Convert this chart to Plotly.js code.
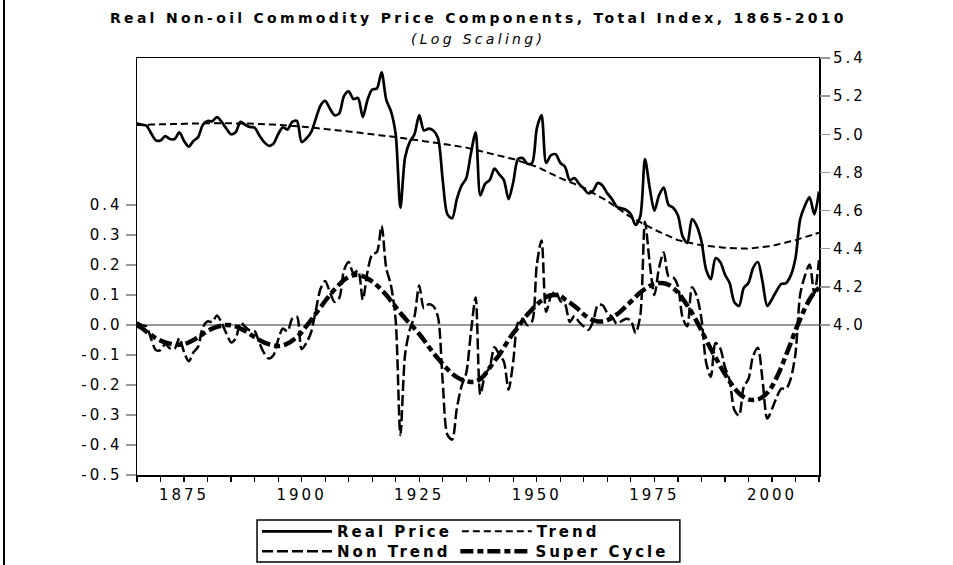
<!DOCTYPE html>
<html><head><meta charset="utf-8">
<script src="https://cdn.plot.ly/plotly-3.0.1.min.js"></script>
<style>
html,body{margin:0;padding:0;background:#fff;}
#chart{width:953px;height:565px;}
svg text{letter-spacing:3px;}
svg text.annotation-text{letter-spacing:3.3px;}
</style>
</head><body><div id="chart"></div>
<script>
const years = [];
for (let y = 1865; y <= 2010; y++) years.push(y);

const realPrice = [
5.058,5.050,5.045,5.005,4.968,4.968,4.990,4.975,4.975,5.010,
4.965,4.935,4.965,4.985,5.050,5.070,5.068,5.090,5.065,5.030,
5.000,5.012,5.065,5.050,5.038,5.035,4.995,4.960,4.940,4.950,
5.000,5.036,5.025,5.065,5.070,4.960,4.978,5.010,5.080,5.150,
5.175,5.135,5.100,5.110,5.200,5.225,5.185,5.190,5.090,5.180,
5.235,5.240,5.325,5.180,5.120,5.000,4.615,4.880,4.960,5.000,
5.100,5.020,5.030,5.020,4.980,4.760,4.580,4.560,4.660,4.730,
4.770,4.900,5.010,4.680,4.740,4.760,4.820,4.790,4.760,4.660,
4.750,4.870,4.875,4.845,4.850,5.030,5.100,4.850,4.890,4.895,
4.850,4.830,4.760,4.770,4.740,4.715,4.690,4.705,4.745,4.730,
4.690,4.660,4.620,4.612,4.603,4.580,4.525,4.570,4.870,4.720,
4.600,4.680,4.720,4.630,4.615,4.575,4.465,4.430,4.555,4.520,
4.440,4.290,4.240,4.350,4.330,4.265,4.220,4.120,4.100,4.195,
4.220,4.300,4.330,4.225,4.100,4.135,4.180,4.215,4.220,4.260,
4.350,4.555,4.625,4.670,4.580,4.700];

const trend = [
5.049,5.050,5.050,5.051,5.051,5.052,5.053,5.053,5.054,5.054,
5.055,5.056,5.056,5.057,5.057,5.058,5.058,5.058,5.058,5.058,
5.058,5.057,5.057,5.056,5.056,5.055,5.054,5.053,5.052,5.051,
5.050,5.048,5.046,5.044,5.042,5.040,5.038,5.035,5.033,5.030,
5.028,5.025,5.023,5.020,5.018,5.015,5.012,5.009,5.006,5.003,
5.000,4.997,4.994,4.991,4.988,4.985,4.982,4.978,4.975,4.971,
4.968,4.964,4.961,4.957,4.954,4.950,4.946,4.942,4.938,4.934,
4.930,4.924,4.918,4.912,4.906,4.900,4.894,4.888,4.882,4.876,
4.870,4.862,4.854,4.846,4.838,4.830,4.818,4.806,4.794,4.782,
4.770,4.760,4.750,4.740,4.730,4.720,4.706,4.692,4.678,4.664,
4.650,4.633,4.616,4.599,4.582,4.565,4.552,4.539,4.526,4.513,
4.500,4.489,4.478,4.467,4.456,4.445,4.440,4.434,4.429,4.423,
4.418,4.415,4.413,4.410,4.408,4.405,4.404,4.403,4.402,4.401,
4.400,4.403,4.406,4.409,4.412,4.415,4.421,4.427,4.433,4.439,
4.445,4.453,4.461,4.468,4.476,4.484];

const nonTrend = [
0.009,0.000,-0.005,-0.046,-0.083,-0.084,-0.063,-0.078,-0.079,-0.044,
-0.090,-0.121,-0.091,-0.072,-0.007,0.012,0.010,0.032,0.007,-0.028,
-0.058,-0.045,0.008,-0.006,-0.018,-0.020,-0.059,-0.093,-0.112,-0.101,
-0.050,-0.012,-0.021,0.021,0.028,-0.080,-0.060,-0.025,0.047,0.120,
0.147,0.110,0.077,0.090,0.182,0.210,0.173,0.181,0.084,0.177,
0.235,0.243,0.331,0.189,0.132,0.015,-0.367,-0.098,-0.015,0.029,
0.132,0.056,0.069,0.063,0.026,-0.190,-0.366,-0.382,-0.278,-0.204,
-0.160,-0.024,0.092,-0.232,-0.166,-0.140,-0.074,-0.098,-0.122,-0.216,
-0.120,0.008,0.021,-0.001,0.012,0.200,0.282,0.044,0.096,0.113,
0.080,0.070,0.010,0.030,0.010,-0.005,-0.016,0.013,0.067,0.066,
0.040,0.027,0.004,0.013,0.021,0.015,-0.027,0.031,0.344,0.207,
0.100,0.191,0.242,0.163,0.159,0.130,0.025,-0.004,0.126,0.097,
0.022,-0.125,-0.173,-0.060,-0.078,-0.140,-0.184,-0.283,-0.302,-0.206,
-0.180,-0.103,-0.076,-0.184,-0.312,-0.280,-0.241,-0.212,-0.213,-0.179,
-0.095,0.102,0.164,0.202,0.104,0.216];

const superCycle = [
0.000,-0.010,-0.022,-0.033,-0.044,-0.052,-0.058,-0.062,-0.065,-0.066,
-0.064,-0.058,-0.050,-0.040,-0.030,-0.020,-0.012,-0.006,-0.002,0.000,
-0.001,-0.005,-0.012,-0.020,-0.030,-0.040,-0.050,-0.058,-0.064,-0.068,
-0.070,-0.068,-0.062,-0.052,-0.040,-0.024,-0.004,0.016,0.038,0.058,
0.080,0.100,0.118,0.135,0.150,0.160,0.166,0.167,0.163,0.155,
0.145,0.132,0.117,0.100,0.080,0.060,0.040,0.022,0.005,-0.012,
-0.030,-0.050,-0.072,-0.093,-0.112,-0.130,-0.147,-0.162,-0.174,-0.182,
-0.187,-0.190,-0.189,-0.180,-0.164,-0.142,-0.120,-0.100,-0.075,-0.050,
-0.027,-0.008,0.015,0.035,0.052,0.068,0.082,0.093,0.099,0.100,
0.097,0.085,0.075,0.063,0.050,0.035,0.024,0.016,0.012,0.012,
0.016,0.024,0.035,0.048,0.063,0.078,0.094,0.108,0.120,0.130,
0.137,0.140,0.139,0.134,0.123,0.108,0.088,0.065,0.040,0.012,
-0.018,-0.050,-0.080,-0.108,-0.137,-0.163,-0.188,-0.210,-0.228,-0.240,
-0.248,-0.250,-0.248,-0.240,-0.226,-0.205,-0.175,-0.140,-0.100,-0.060,
-0.018,0.020,0.055,0.085,0.108,0.125];

const xTickVals = [];
for (let y = 1865; y <= 2010; y += 5) xTickVals.push(y);
const xLabelYears = [1875, 1900, 1925, 1950, 1975, 2000];
const xTickText = xTickVals.map(v => xLabelYears.includes(v) ? String(v) : '');
const leftTicks = [-0.5,-0.4,-0.3,-0.2,-0.1,0.0,0.1,0.2,0.3,0.4];
const leftTickText = ['-0.5','-0.4','-0.3','-0.2','-0.1','0.0','0.1','0.2','0.3','0.4'];
const rightTicks = [4.0,4.2,4.4,4.6,4.8,5.0,5.2,5.4];
const rightTickText = ['4.0','4.2','4.4','4.6','4.8','5.0','5.2','5.4'];

const FONT = 'DejaVu Sans, Arial, sans-serif';

const traces = [
  {x: years, y: realPrice, name: 'Real Price', yaxis: 'y2', legend: 'legend', type: 'scatter', mode: 'lines',
   line: {color: '#000', width: 2.7, shape: 'spline', smoothing: 0.8}},
  {x: years, y: trend, name: 'Trend', yaxis: 'y2', legend: 'legend', type: 'scatter', mode: 'lines',
   line: {color: '#000', width: 2, dash: '7px,4px', shape: 'spline'}},
  {x: years, y: nonTrend, name: 'Non Trend', yaxis: 'y', legend: 'legend2', type: 'scatter', mode: 'lines',
   line: {color: '#000', width: 2.5, dash: '11px,4px', shape: 'spline', smoothing: 0.8}},
  {x: years, y: superCycle, name: 'Super Cycle', yaxis: 'y', legend: 'legend2', type: 'scatter', mode: 'lines',
   line: {color: '#000', width: 4.5, dash: '13px,4px,6px,4px', shape: 'spline'}}
];

const legendCommon = {
  orientation: 'h', xanchor: 'left', yanchor: 'top',
  borderwidth: 0, bgcolor: 'rgba(0,0,0,0)',
  font: {family: FONT, size: 15, color: '#000', weight: 'bold'},
  itemwidth: 70, traceorder: 'normal'
};

const layout = {
  width: 953, height: 565, autosize: false,
  margin: {l: 137, r: 134, t: 58, b: 90, pad: 0, autoexpand: false},
  paper_bgcolor: '#fff', plot_bgcolor: '#fff',
  font: {family: FONT, color: '#000', size: 15},
  showlegend: true,
  legend: Object.assign({x: 0.176, y: -0.096}, legendCommon),
  legend2: Object.assign({x: 0.176, y: -0.144}, legendCommon),
  xaxis: {
    range: [1865, 2010], tickmode: 'array', tickvals: xTickVals, ticktext: xTickText,
    ticks: 'outside', ticklen: 5, tickwidth: 1.2, tickcolor: '#000',
    showline: true, linecolor: '#000', linewidth: 1.5, mirror: true,
    showgrid: false, zeroline: false,
    tickfont: {family: FONT, size: 15, color: '#000'}
  },
  yaxis: {
    range: [-0.5, 0.89], tickmode: 'array', tickvals: leftTicks, ticktext: leftTickText,
    ticks: 'outside', ticklen: 10, tickwidth: 1.5, tickcolor: '#999',
    showline: true, linecolor: '#000', linewidth: 1.5, mirror: true,
    showgrid: false, zeroline: true, zerolinecolor: '#999', zerolinewidth: 1.5,
    tickfont: {family: FONT, size: 15, color: '#000'}
  },
  yaxis2: {
    range: [3.2134, 5.4], overlaying: 'y', side: 'right', tickmode: 'array',
    tickvals: rightTicks, ticktext: rightTickText,
    ticks: 'outside', ticklen: 10, tickwidth: 1.5, tickcolor: '#999',
    showline: false, showgrid: false, zeroline: false,
    tickfont: {family: FONT, size: 15, color: '#000'}
  },
  annotations: [
    {text: '<b>Real Non-oil Commodity Price Components, Total Index, 1865-2010</b>',
     xref: 'paper', yref: 'paper', x: 0.5, y: 1.096, xanchor: 'center', yanchor: 'middle',
     showarrow: false, font: {family: FONT, size: 14, color: '#000'}},
    {text: '<i>(Log Scaling)</i>',
     xref: 'paper', yref: 'paper', x: 0.5, y: 1.0456, xanchor: 'center', yanchor: 'middle',
     showarrow: false, font: {family: FONT, size: 14, color: '#000'}}
  ],
  shapes: [
    {type: 'line', xref: 'paper', yref: 'paper', x0: -0.195, x1: -0.195, y0: -0.216, y1: 1.139,
     line: {color: '#000', width: 2}},
    {type: 'rect', xref: 'paper', yref: 'paper', x0: 0.176, x1: 0.796, y0: -0.2086, y1: -0.108,
     line: {color: '#000', width: 1.5}, fillcolor: 'rgba(0,0,0,0)'}
  ]
};

Plotly.newPlot('chart', traces, layout, {displayModeBar: false, staticPlot: true});
</script>
</body></html>
